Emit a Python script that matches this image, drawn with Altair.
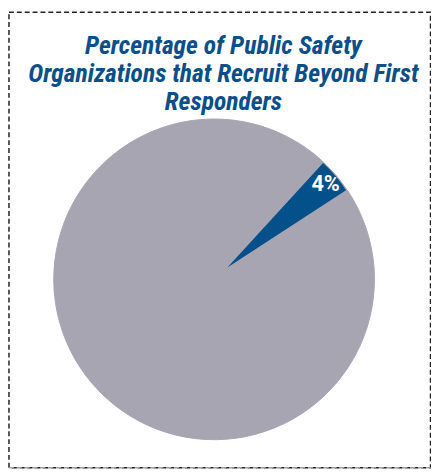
import math
import altair as alt
import pandas as pd

# ---- data ----
categories = ["Recruit beyond first responders", "Do not recruit beyond first responders"]
values = [4, 96]
labels = ["4%", ""]
order = [0, 1]
title_lines = [
    "Percentage of Public Safety",
    "Organizations that Recruit Beyond First",
    "Responders",
]

df = pd.DataFrame({"category": categories, "value": values, "label": labels, "order": order})
frame_df = pd.DataFrame({"a": [0]})

GRAY = "#A6A5B1"
BLUE = "#03508A"
TITLE_BLUE = "#0B4F8A"

start = math.radians(42.5)
theta_scale = alt.Scale(domain=[0, 100], range=[start, start + 2 * math.pi])

base = alt.Chart(df)

disk = base.mark_arc(radius=163, fill=GRAY, stroke=GRAY, strokeWidth=1).encode(
    theta=alt.Theta("value:Q", stack=True, scale=theta_scale),
    order=alt.Order("order:Q"),
    x=alt.value(209.5),
    y=alt.value(162),
)

wedge = base.transform_filter(alt.datum.order == 0).mark_arc(radius=144, fill=BLUE).encode(
    theta=alt.Theta("value:Q", stack=True, scale=theta_scale),
    order=alt.Order("order:Q"),
    x=alt.value(223),
    y=alt.value(150),
)

label = base.transform_filter(alt.datum.order == 0).mark_text(
    radius=131, fontSize=22, fontWeight="bold", color="white",
    font="Roboto", align="center", baseline="middle",
).encode(
    theta=alt.Theta("value:Q", stack=True, scale=theta_scale),
    text="label:N",
    x=alt.value(223),
    y=alt.value(150),
)

border = alt.Chart(frame_df).mark_rect(
    fill=None, stroke="#222222", strokeWidth=1.5, strokeDash=[5, 3]
).encode(
    x=alt.value(1), x2=alt.value(429.5), y=alt.value(-109.5), y2=alt.value(353.5)
)

bottom = alt.Chart(frame_df).mark_rule(
    stroke="#A0A0A0", strokeWidth=1.5, strokeDash=[5, 3]
).encode(
    x=alt.value(1), x2=alt.value(429.5), y=alt.value(353.5)
)

title_layers = []
for txt, yy in zip(title_lines, [-67, -39, -10]):
    title_layers.append(
        alt.Chart(pd.DataFrame({"t": [txt]})).mark_text(
            fontSize=26,
            font="Roboto Condensed",
            fontStyle="italic",
            fontWeight="bold",
            color=TITLE_BLUE,
            align="center",
            baseline="alphabetic",
        ).encode(text="t:N", x=alt.value(219), y=alt.value(yy))
    )

chart = alt.layer(disk, wedge, label, border, bottom, *title_layers).properties(
    width=430,
    height=354,
    padding={"left": 0, "top": 110, "right": 0, "bottom": 0},
    autosize=alt.AutoSizeParams(type="none"),
).configure_view(stroke=None)

chart.save("out.html", embed_options={"renderer": "svg", "actions": False})
